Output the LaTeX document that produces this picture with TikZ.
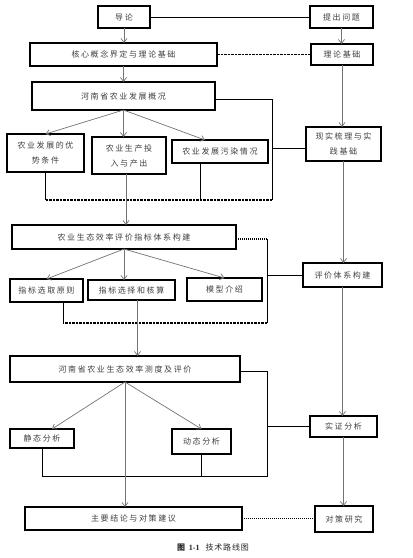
\documentclass[tikz,border=0pt]{standalone}
\usepackage{fontspec}
\setmainfont{Liberation Serif}
\newfontfamily\cjk{Noto Sans CJK SC}[LetterSpace=20]
\newfontfamily\cjkcap{Noto Sans CJK SC}[LetterSpace=10]
\usetikzlibrary{arrows.meta,calc}
\begin{document}
\begin{tikzpicture}[x=1pt,y=-1pt,
  box/.style={draw=black,line width=1.5pt,fill=white,inner sep=0pt,outer sep=0pt,
    font=\cjk\fontsize{8}{15}\selectfont,align=center,text=black!75},
  arr/.style={draw=black!55,line width=0.7pt,-{Straight Barb[length=4pt,width=6pt]}},
  ln/.style={draw=black,line width=0.9pt},
  dsh/.style={draw=black,line width=1.6pt,dash pattern=on 2.5pt off 1pt},
  dot/.style={draw=black,line width=1.2pt,dash pattern=on 1.2pt off 0.8pt}]
\fill[white] (0,0) rectangle (413,558);
\useasboundingbox (0,0) rectangle (413,558);

% boxes
\node[box,minimum width=52,minimum height=22] (daolun) at (124,17) {导论};
\node[box,minimum width=63,minimum height=22] (tichu) at (341.5,17) {提出问题};
\node[box,minimum width=187,minimum height=23] (hexin) at (123.5,54.5) {核心概念界定与理论基础};
\node[box,minimum width=62,minimum height=21] (lilun) at (342,54.5) {理论基础};
\node[box,minimum width=183,minimum height=28] (henan) at (123.5,96) {河南省农业发展概况};
\node[box,minimum width=77,minimum height=38] (youshi) at (45.5,153) {农业发展的优\\势条件};
\node[box,minimum width=74,minimum height=37] (touru) at (129,155.5) {农业生产投\\入与产出};
\node[box,minimum width=96,minimum height=23] (wuran) at (220,151.5) {农业发展污染情况};
\node[box,minimum width=75,minimum height=34] (xianshi) at (343.5,144) {现实梳理与实\\践基础};
\node[box,minimum width=224,minimum height=24] (zhibiao) at (124,237) {农业生态效率评价指标体系构建};
\node[box,minimum width=79,minimum height=24] (pingjia) at (342.5,275) {评价体系构建};
\node[box,minimum width=73,minimum height=23] (yuanze) at (46.5,290.5) {指标选取原则};
\node[box,minimum width=87,minimum height=20] (hesuan) at (131.5,290) {指标选择和核算};
\node[box,minimum width=75,minimum height=23] (moxing) at (224.5,289.5) {模型介绍};
\node[box,minimum width=230,minimum height=26] (cedu) at (125,369) {河南省农业生态效率测度及评价};
\node[box,minimum width=67,minimum height=21] (shizheng) at (343.5,426.5) {实证分析};
\node[box,minimum width=64,minimum height=19] (jingtai) at (42,438.5) {静态分析};
\node[box,minimum width=59,minimum height=25] (dongtai) at (201.5,441.5) {动态分析};
\node[box,minimum width=217,minimum height=23] (jielun) at (133.5,518.5) {主要结论与对策建议};
\node[box,minimum width=58,minimum height=26] (duice) at (344,519) {对策研究};

% top part
\draw[ln] (daolun.east) -- (tichu.west);
\draw[arr] (daolun.south) -- (daolun.south |- hexin.north);
\draw[arr] (tichu.south) -- (tichu.south |- lilun.north);
\draw[dsh] (hexin.east) -- (hexin.east -| lilun.west);
\draw[arr] (hexin.south) -- (hexin.south |- henan.north);
\draw[arr] (henan.south) -- (youshi.north);
\draw[arr] (henan.south) -- (henan.south |- touru.north);
\draw[arr] (henan.south) -- ($(wuran.north)+(-15,0)$);
\draw[arr] (lilun.south) -- (lilun.south |- xianshi.north);

\coordinate (r1) at (272,200);
\coordinate (h1) at ($(henan.east)+(0,3)$);
\coordinate (w1) at ($(wuran.south)+(-20,0)$);
\coordinate (x1) at ($(xianshi.west)+(0,4)$);
\coordinate (t1) at ($(touru.south)+(-3,0)$);
\draw[ln] (h1) -| (r1);
\draw[dsh] (r1) -- (r1 -| youshi.south);
\draw[ln] (youshi.south) -- (youshi.south |- r1);
\draw[ln] (w1) -- (w1 |- r1);
\draw[ln] (x1) -- (x1 -| r1);
\draw[arr] (t1) -- (t1 |- zhibiao.north);

% middle part
\coordinate (r2) at (267,323);
\coordinate (y1) at ($(yuanze.south)+(16.5,0)$);
\coordinate (z1) at ($(zhibiao.east)+(0,2)$);
\coordinate (hs1) at ($(hesuan.south)+(6,0)$);
\draw[dot] (z1) -- (z1 -| r2);
\draw[ln] (z1 -| r2) -- (r2);
\draw[dsh] (r2) -- (r2 -| y1);
\draw[ln] (y1) -- (y1 |- r2);
\draw[ln] (pingjia.west) -- (pingjia.west -| r2);
\draw[arr] (zhibiao.south) -- (yuanze.north);
\draw[arr] (zhibiao.south) -- (zhibiao.south |- hesuan.north);
\draw[arr] (zhibiao.south) -- (moxing.north);
\draw[arr] (hs1) -- (hs1 |- cedu.north);
\draw[arr] (xianshi.south) -- (xianshi.south |- pingjia.north);
\draw[arr] (pingjia.south) -- (pingjia.south |- shizheng.north);

% bottom part
\coordinate (r3) at (267,476);
\coordinate (c1) at ($(cedu.east)+(0,2)$);
\draw[ln] (c1) -| (r3) -- (r3 -| jingtai.south);
\draw[ln] (jingtai.south) -- (jingtai.south |- r3);
\draw[ln] (dongtai.south) -- (dongtai.south |- r3);
\draw[ln] (shizheng.west) -- (shizheng.west -| r3);
\draw[arr] (cedu.south) -- ($(jingtai.north)+(10,0)$);
\draw[arr] (cedu.south) -- (dongtai.north);
\draw[arr] (cedu.south) -- (cedu.south |- jielun.north);
\draw[arr] (shizheng.south) -- (shizheng.south |- duice.north);
\draw[dot] (jielun.east) -- (jielun.east -| duice.west);

% caption
\node[font=\fontsize{8}{10}\selectfont,text=black!85] (cap) at (213,548)
  {{\cjkcap\bfseries 图}\hspace{3pt}\textbf{1-1}\hspace{6pt}{\cjkcap 技术路线图}};
\end{tikzpicture}
\end{document}
